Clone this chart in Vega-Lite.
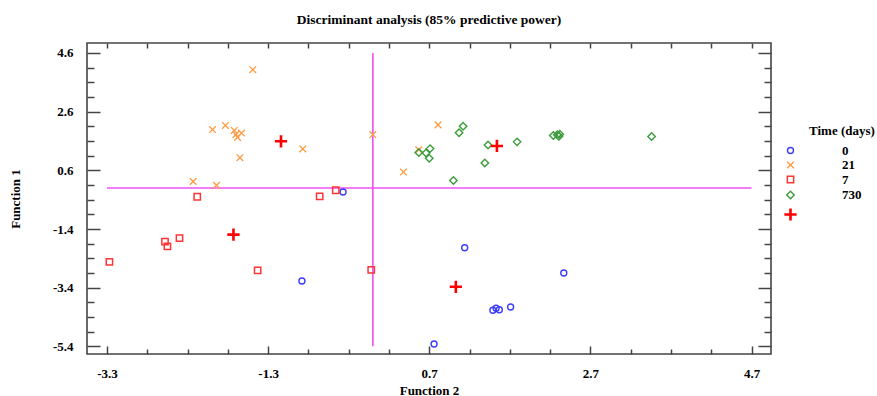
{
  "$schema": "https://vega.github.io/schema/vega-lite/v6.json",
  "width": 684,
  "height": 311,
  "autosize": "none",
  "padding": {"left": 87, "top": 43, "right": 106, "bottom": 42},
  "background": "white",
  "title": {
    "text": "Discriminant analysis (85% predictive power)",
    "font": "Liberation Serif",
    "fontSize": 13.5,
    "fontWeight": "bold",
    "color": "black",
    "anchor": "middle",
    "offset": 16
  },
  "config": {
    "view": {"stroke": "#444", "strokeWidth": 1.6},
    "axis": {
      "grid": false,
      "domain": false,
      "labelFont": "Liberation Serif",
      "labelFontWeight": "bold",
      "labelFontSize": 13,
      "labelColor": "black",
      "titleFont": "Liberation Serif",
      "titleFontWeight": "bold",
      "titleFontSize": 13,
      "titleColor": "black",
      "tickColor": "#444",
      "tickWidth": 1.5
    },
    "legend": {
      "titleFont": "Liberation Serif",
      "titleFontWeight": "bold",
      "titleFontSize": 13,
      "titleColor": "black",
      "labelFont": "Liberation Serif",
      "labelFontWeight": "bold",
      "labelFontSize": 13,
      "labelColor": "black"
    }
  },
  "resolve": {"axis": {"x": "independent", "y": "independent"}},
  "layer": [
    {
      "data": {"values": [
        {"x1": -3.3, "x2": 4.7, "y1": 0, "y2": 0},
        {"x1": 0, "x2": 0, "y1": -5.4, "y2": 4.6}
      ]},
      "mark": {"type": "rule", "color": "#f050f0", "strokeWidth": 1.6},
      "encoding": {
        "x": {"field": "x1", "type": "quantitative",
          "scale": {"domain": [-3.548, 4.942], "nice": false, "zero": false},
          "axis": {"orient": "bottom", "title": "Function 2", "titlePadding": 4,
            "values": [-3.3,-2.8,-2.3,-1.8,-1.3,-0.8,-0.3,0.2,0.7,1.2,1.7,2.2,2.7,3.2,3.7,4.2,4.7],
            "tickSize": {"condition": {"test": "abs((datum.value+3.3)/2 - round((datum.value+3.3)/2)) < 0.01", "value": -8}, "value": -5},
            "labelPadding": 21,
            "labelExpr": "abs((datum.value+3.3)/2 - round((datum.value+3.3)/2)) < 0.01 ? '' + datum.value : ''"}},
        "x2": {"field": "x2"},
        "y": {"field": "y1", "type": "quantitative",
          "scale": {"domain": [-5.66, 4.94], "nice": false, "zero": false},
          "axis": {"orient": "left", "title": "Function 1", "titlePadding": 30,
            "values": [-5.4,-4.9,-4.4,-3.9,-3.4,-2.9,-2.4,-1.9,-1.4,-0.9,-0.4,0.1,0.6,1.1,1.6,2.1,2.6,3.1,3.6,4.1,4.6],
            "tickSize": {"condition": {"test": "abs((datum.value+5.4)/2 - round((datum.value+5.4)/2)) < 0.01", "value": -13}, "value": -7},
            "labelPadding": 27,
            "labelExpr": "abs((datum.value+5.4)/2 - round((datum.value+5.4)/2)) < 0.01 ? '' + datum.value : ''"}},
        "y2": {"field": "y2"}
      }
    },
    {
      "data": {"values": [
        {"f2": -0.88, "f1": -3.17, "group": "0"},
        {"f2": -0.37, "f1": -0.14, "group": "0"},
        {"f2": 1.14, "f1": -2.04, "group": "0"},
        {"f2": 2.37, "f1": -2.90, "group": "0"},
        {"f2": 1.49, "f1": -4.17, "group": "0"},
        {"f2": 1.53, "f1": -4.10, "group": "0"},
        {"f2": 1.57, "f1": -4.15, "group": "0"},
        {"f2": 1.71, "f1": -4.06, "group": "0"},
        {"f2": 0.76, "f1": -5.32, "group": "0"},
        {"f2": -1.49, "f1": 4.03, "group": "21"},
        {"f2": -1.99, "f1": 1.99, "group": "21"},
        {"f2": -1.83, "f1": 2.13, "group": "21"},
        {"f2": -1.72, "f1": 1.96, "group": "21"},
        {"f2": -1.70, "f1": 1.82, "group": "21"},
        {"f2": -1.63, "f1": 1.87, "group": "21"},
        {"f2": -1.68, "f1": 1.72, "group": "21"},
        {"f2": -1.65, "f1": 1.03, "group": "21"},
        {"f2": -0.87, "f1": 1.33, "group": "21"},
        {"f2": 0.0, "f1": 1.82, "group": "21"},
        {"f2": -2.23, "f1": 0.22, "group": "21"},
        {"f2": -1.94, "f1": 0.09, "group": "21"},
        {"f2": 0.81, "f1": 2.15, "group": "21"},
        {"f2": 0.57, "f1": 1.30, "group": "21"},
        {"f2": 0.38, "f1": 0.54, "group": "21"},
        {"f2": -3.27, "f1": -2.52, "group": "7"},
        {"f2": -2.58, "f1": -1.83, "group": "7"},
        {"f2": -2.55, "f1": -1.99, "group": "7"},
        {"f2": -2.40, "f1": -1.71, "group": "7"},
        {"f2": -2.18, "f1": -0.30, "group": "7"},
        {"f2": -1.43, "f1": -2.81, "group": "7"},
        {"f2": -0.66, "f1": -0.29, "group": "7"},
        {"f2": -0.46, "f1": -0.08, "group": "7"},
        {"f2": -0.02, "f1": -2.79, "group": "7"},
        {"f2": 1.12, "f1": 2.10, "group": "730"},
        {"f2": 1.07, "f1": 1.88, "group": "730"},
        {"f2": 0.71, "f1": 1.34, "group": "730"},
        {"f2": 0.66, "f1": 1.19, "group": "730"},
        {"f2": 0.57, "f1": 1.21, "group": "730"},
        {"f2": 0.70, "f1": 1.01, "group": "730"},
        {"f2": 1.43, "f1": 1.46, "group": "730"},
        {"f2": 1.79, "f1": 1.57, "group": "730"},
        {"f2": 1.39, "f1": 0.85, "group": "730"},
        {"f2": 1.00, "f1": 0.25, "group": "730"},
        {"f2": 2.24, "f1": 1.79, "group": "730"},
        {"f2": 2.29, "f1": 1.81, "group": "730"},
        {"f2": 2.32, "f1": 1.83, "group": "730"},
        {"f2": 2.31, "f1": 1.76, "group": "730"},
        {"f2": 3.46, "f1": 1.75, "group": "730"},
        {"f2": -1.14, "f1": 1.59, "group": "centroid"},
        {"f2": 1.54, "f1": 1.43, "group": "centroid"},
        {"f2": -1.73, "f1": -1.59, "group": "centroid"},
        {"f2": 1.03, "f1": -3.37, "group": "centroid"}
      ]},
      "mark": {"type": "point", "filled": false, "opacity": 1},
      "encoding": {
        "x": {"field": "f2", "type": "quantitative",
          "axis": {"orient": "top", "title": null, "labels": false,
            "values": [-3.3,-2.8,-2.3,-1.8,-1.3,-0.8,-0.3,0.2,0.7,1.2,1.7,2.2,2.7,3.2,3.7,4.2,4.7],
            "tickSize": -5}},
        "y": {"field": "f1", "type": "quantitative",
          "axis": {"orient": "right", "title": null, "labels": false,
            "values": [-5.4,-4.9,-4.4,-3.9,-3.4,-2.9,-2.4,-1.9,-1.4,-0.9,-0.4,0.1,0.6,1.1,1.6,2.1,2.6,3.1,3.6,4.1,4.6],
            "tickSize": {"condition": {"test": "abs((datum.value+5.4)/2 - round((datum.value+5.4)/2)) < 0.01", "value": -13}, "value": -7}}},
        "color": {"field": "group", "type": "nominal", "title": "Time (days)",
          "scale": {"domain": ["0", "21", "7", "730", "centroid"],
                    "range": ["#3c3cff", "#ff9a40", "#ff3535", "#3c9c3c", "#ff0000"]},
          "legend": {"orient": "none", "legendX": 722, "legendY": 82,
            "symbolOffset": -26,
            "labelOffset": 44, "rowPadding": 0.5, "titlePadding": 6,
            "symbolStrokeWidth": 1.5,
            "labelExpr": "datum.label === 'centroid' ? '' : datum.label"}},
        "shape": {"field": "group", "type": "nominal", "title": "Time (days)",
          "scale": {"domain": ["0", "21", "7", "730", "centroid"],
                    "range": ["circle", "M-1,-1L1,1M-1,1L1,-1", "square", "diamond", "M-1,0L1,0M0,-1L0,1"]}},
        "size": {"field": "group", "type": "nominal", "title": "Time (days)",
          "scale": {"type": "ordinal", "domain": ["0", "21", "7", "730", "centroid"],
                    "range": [36, 44, 40, 56, 150]}},
        "strokeWidth": {"field": "group", "type": "nominal", "title": "Time (days)",
          "scale": {"type": "ordinal", "domain": ["0", "21", "7", "730", "centroid"],
                    "range": [1.4, 1.3, 1.5, 1.4, 2.6]}}
      }
    }
  ]
}
